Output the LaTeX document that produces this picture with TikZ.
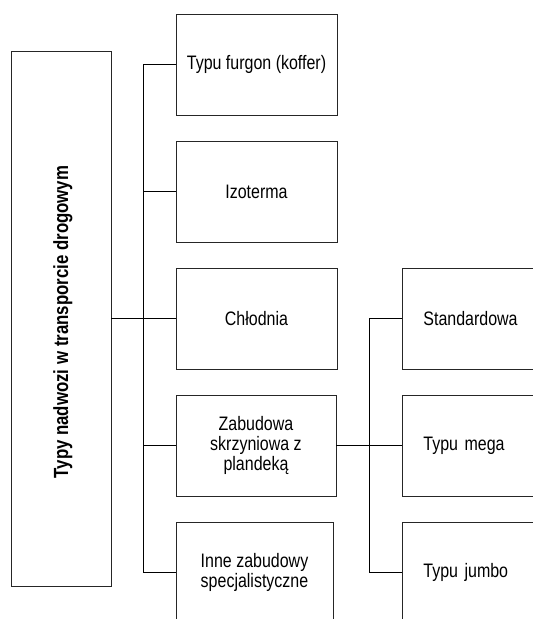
\documentclass[tikz,border=0pt]{standalone}
\usepackage{fontspec}
\setmainfont{Liberation Sans}[FakeStretch=0.82]
\begin{document}
\begin{tikzpicture}[x=1pt,y=-1pt,
  every node/.style={font=\fontsize{19.5}{20}\selectfont},
  box/.style={draw=black!85, line width=0.8pt, rectangle, minimum width=161, minimum height=101, align=center, inner sep=0pt},
  rbox/.style={draw=black!85, line width=0.8pt, rectangle, minimum height=101, text width=128, inner xsep=21, inner ysep=0pt, align=left},
  conn/.style={draw=black, line width=0.8pt}]
\useasboundingbox (0,0) rectangle (533,619);
\clip (0,0) rectangle (533,619);
\fill[white] (0,0) rectangle (533,619);
% root
\node[draw=black!85, line width=0.8pt, minimum width=100, minimum height=535, inner sep=0pt] (root) at (61,318.5) {};
\node[rotate=90, anchor=base, inner sep=0pt, font=\fontsize{20.5}{21}\selectfont\bfseries] (title) at (68,322) {Typy nadwozi w transporcie drogowym};
% column 1
\node[box] (c1) at (256.5,64.5) {Typu furgon (koffer)};
\node[box] (c2) at (256.5,191.5) {Izoterma};
\node[box] (c3) at (256.5,318.5) {Chłodnia};
\node[box, minimum width=160] (c4) at (256,445.5) {Zabudowa\\skrzyniowa z\\plandeką};
\node[box, minimum width=157] (c5) at (254.5,572.5) {Inne zabudowy\\specjalistyczne};
% column 2
\node[rbox, anchor=west] (d1) at (402,318.5) {Standardowa};
\node[rbox, anchor=west] (d2) at (402,445.5) {Typu mega};
\node[rbox, anchor=west] (d3) at (402,572.5) {Typu jumbo};
% trunks
\coordinate (t) at (143.5,0);
\coordinate (u) at (369,0);
\draw[conn] (root.east) -- (c3.west);
\draw[conn] (c1.west) -- (c1.west -| t) -- (c5.west -| t) -- (c5.west);
\draw[conn] (c2.west) -- (c2.west -| t);
\draw[conn] (c4.west) -- (c4.west -| t);
\draw[conn] (c4.east) -- (d2.west);
\draw[conn] (d1.west) -- (d1.west -| u) -- (d3.west -| u) -- (d3.west);
\end{tikzpicture}
\end{document}
